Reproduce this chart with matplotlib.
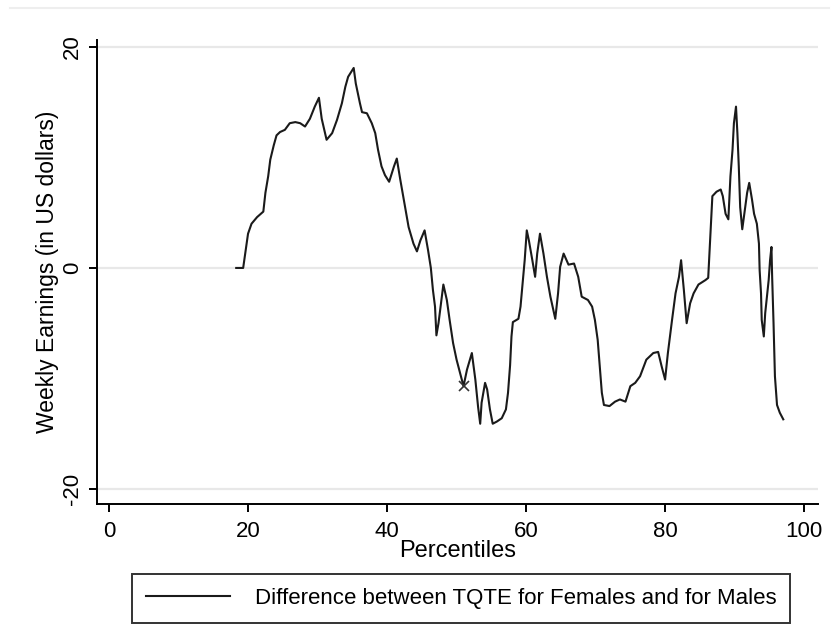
import matplotlib
matplotlib.use("Agg")
from matplotlib import pyplot as plt
from matplotlib.lines import Line2D

plt.rcParams['font.family'] = ['Liberation Sans', 'DejaVu Sans']

# percentiles and difference in TQTE (females - males)
pct = [18.3, 19.3, 19.6, 20.0, 20.5, 21.3, 22.2, 22.5, 22.9, 23.2, 23.7, 24.1, 24.6,
       25.3, 26.0, 26.8, 27.5, 28.2, 28.9, 29.6, 30.2, 30.6, 31.3, 32.1, 32.8,
       33.5, 34.0, 34.4, 35.2, 35.5, 36.1, 36.4, 37.1, 37.8, 38.3, 38.7, 39.2,
       39.7, 40.3, 41.0, 41.4, 41.9, 42.4, 43.1, 43.8, 44.3, 44.8, 45.4, 45.9,
       46.3, 46.6, 46.9, 47.1, 47.4, 47.7, 48.1, 48.6, 49.0, 49.5, 50.0, 50.5,
       51.0, 51.5, 52.2, 52.7, 53.1, 53.4, 53.6, 54.1, 54.4, 54.8, 55.2, 55.8,
       56.5, 57.1, 57.4, 57.7, 57.9, 58.1, 58.9, 59.2, 59.5, 59.8, 60.1, 60.4,
       60.9, 61.3, 61.6, 62.0, 62.5, 63.0, 63.5, 64.2, 64.6, 64.9, 65.4, 66.1,
       66.9, 67.5, 68.0, 68.9, 69.5, 69.9, 70.3, 70.6, 70.9, 71.2, 72.0, 72.8,
       73.5, 74.3, 75.0, 75.7, 76.4, 77.3, 78.3, 79.0, 79.5, 80.0, 80.4, 81.0,
       81.5, 82.0, 82.3, 82.7, 83.1, 83.6, 84.1, 84.8, 85.8, 86.2, 86.5, 86.8,
       87.4, 88.0, 88.3, 88.7, 89.1, 89.4, 89.7, 89.9, 90.2, 90.4, 90.6, 90.8,
       91.1, 91.4, 91.8, 92.1, 92.5, 92.8, 93.2, 93.5, 93.6, 93.8, 93.9, 94.2,
       94.4, 94.6, 94.9, 95.1, 95.3, 95.4, 95.6, 95.8, 96.1, 96.5, 97.0]
diff = [0, 0, 1.3, 3.1, 4.0, 4.6, 5.1, 6.8, 8.3, 9.8, 11.1, 12.0, 12.3,
        12.5, 13.1, 13.2, 13.1, 12.8, 13.5, 14.6, 15.4, 13.5, 11.6, 12.2, 13.4,
        14.9, 16.4, 17.3, 18.1, 16.7, 14.9, 14.1, 14.0, 13.1, 12.2, 10.7, 9.2,
        8.4, 7.8, 9.2, 9.9, 8.0, 6.2, 3.7, 2.2, 1.5, 2.5, 3.4, 1.6,
        0.0, -2.0, -3.5, -6.1, -5.0, -3.5, -1.5, -2.9, -4.7, -6.8, -8.3, -9.5,
        -10.7, -9.2, -7.7, -10.1, -12.6, -14.1, -12.2, -10.4, -11.0, -12.8, -14.1, -13.9,
        -13.6, -12.8, -11.3, -8.8, -6.2, -4.9, -4.6, -3.5, -1.4, 0.7, 3.4, 2.5,
        0.7, -0.8, 1.3, 3.1, 1.3, -0.8, -2.6, -4.6, -2.3, 0.1, 1.3, 0.3,
        0.4, -0.8, -2.6, -2.9, -3.5, -4.7, -6.5, -8.9, -11.3, -12.4, -12.5, -12.1,
        -11.9, -12.1, -10.7, -10.4, -9.8, -8.3, -7.7, -7.6, -8.9, -10.1, -7.7, -4.7,
        -2.3, -0.8, 0.7, -2.0, -5.0, -3.2, -2.3, -1.5, -1.1, -0.9, 2.8, 6.5,
        6.9, 7.1, 6.5, 4.9, 4.4, 8.3, 10.7, 13.1, 14.6, 12.2, 9.2, 5.5,
        3.5, 4.9, 6.8, 7.7, 6.2, 4.9, 4.0, 2.2, -0.2, -2.3, -4.7, -6.2,
        -4.1, -2.9, -1.1, 0.7, 1.9, -0.8, -5.0, -9.8, -12.4, -13.1, -13.7]

# lone marked point on the curve
mark_x = [51.0]
mark_y = [-10.7]

xticks = [0, 20, 40, 60, 80, 100]
yticks = [-20, 0, 20]

fig = plt.figure(figsize=(8.39, 6.42), dpi=100)
ax = fig.add_axes([0.1156, 0.215, 0.8594, 0.7227])

ax.plot(pct, diff, color='#1a1a1a', lw=1.5,
        label='Difference between TQTE for Females and for Males')
ax.plot(mark_x, mark_y, 'x', color='#333333', ms=7, mew=1.2)

ax.set_xlim(-1.73, 102.0)
ax.set_ylim(-21.36, 20.63)
ax.set_xticks(xticks)
ax.set_yticks(yticks)
ax.set_yticklabels([str(t) if t >= 0 else '-' + str(-t) for t in yticks],
                   rotation=90, va='center')
ax.yaxis.grid(True, color='#e8e8e8', lw=1.6)
ax.set_axisbelow(True)
for s in ['top', 'right']:
    ax.spines[s].set_visible(False)
for s in ['left', 'bottom']:
    ax.spines[s].set_linewidth(1.4)
ax.tick_params(direction='out', length=6, width=1.4, labelsize=16)
ax.tick_params(axis='x', pad=6)
ax.tick_params(axis='y', pad=4)

ax.set_xlabel('Percentiles', fontsize=17, labelpad=-1)
ax.set_ylabel('Weekly Earnings (in US dollars)', fontsize=16.5, labelpad=2)

leg = ax.legend(loc='upper center', bbox_to_anchor=(0.505, -0.152), fontsize=16,
                frameon=True, fancybox=False, edgecolor='black', handlelength=3.8,
                borderpad=0.62, handletextpad=1.1, borderaxespad=0)
leg.get_frame().set_linewidth(1.4)

# faint border line across the top of the image
fig.add_artist(Line2D([0.012, 0.988], [0.988, 0.988], color='#eeeeee', lw=1.5))

plt.savefig('out.png', dpi=100)
